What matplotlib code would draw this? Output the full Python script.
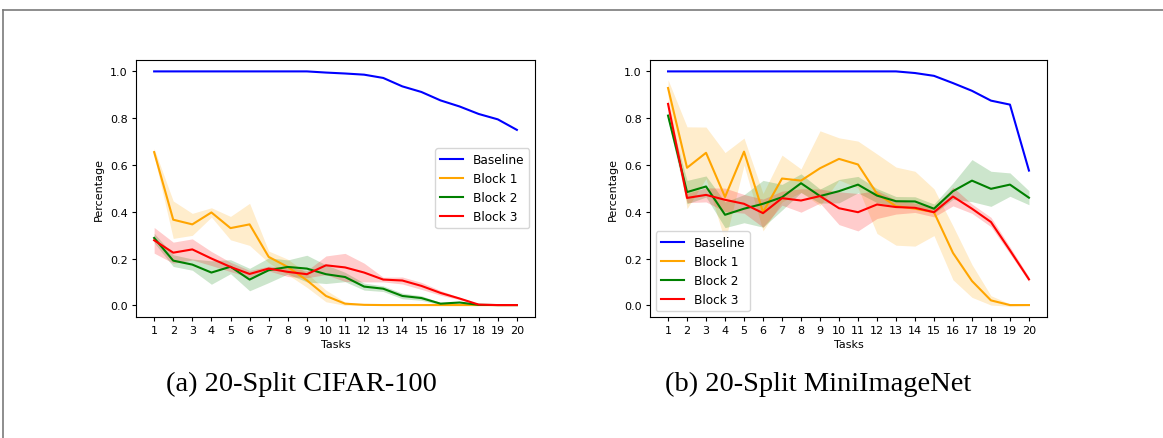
import matplotlib
matplotlib.use("Agg")
import matplotlib.pyplot as plt
from matplotlib.lines import Line2D
import numpy as np

tasks = list(range(1, 21))
series_names = ["Baseline", "Block 1", "Block 2", "Block 3"]
series_colors = ["blue", "orange", "green", "red"]

# (a) 20-Split CIFAR-100
cifar_baseline = [1.0, 1.0, 1.0, 1.0, 1.0, 1.0, 1.0, 1.0, 1.0, 0.995,
                  0.991, 0.986, 0.972, 0.936, 0.912, 0.876, 0.850, 0.818, 0.795, 0.750]
cifar_block1 = [0.655, 0.366, 0.346, 0.397, 0.330, 0.346, 0.207, 0.164, 0.107, 0.040,
                0.007, 0.002, 0.001, 0.001, 0.001, 0.001, 0.001, 0.001, 0.001, 0.001]
cifar_block1_std = [0.015, 0.08, 0.047, 0.02, 0.05, 0.09, 0.025, 0.033, 0.03, 0.025,
                    0.007, 0.002, 0.001, 0.001, 0.001, 0.001, 0.001, 0.001, 0.001, 0.001]
cifar_block2 = [0.288, 0.191, 0.174, 0.140, 0.165, 0.110, 0.150, 0.164, 0.157, 0.133,
                0.121, 0.080, 0.071, 0.040, 0.031, 0.007, 0.012, 0.002, 0.001, 0.001]
cifar_block2_std = [0.02, 0.025, 0.024, 0.05, 0.03, 0.048, 0.053, 0.03, 0.057, 0.04,
                    0.02, 0.015, 0.012, 0.012, 0.01, 0.005, 0.003, 0.002, 0.001, 0.001]
cifar_block3 = [0.278, 0.225, 0.239, 0.200, 0.164, 0.134, 0.157, 0.143, 0.133, 0.171,
                0.162, 0.140, 0.110, 0.106, 0.083, 0.053, 0.029, 0.003, 0.001, 0.001]
cifar_block3_std = [0.055, 0.045, 0.045, 0.03, 0.02, 0.015, 0.01, 0.02, 0.015, 0.04,
                    0.06, 0.04, 0.01, 0.015, 0.015, 0.01, 0.005, 0.002, 0.001, 0.001]

# (b) 20-Split MiniImageNet
mini_baseline = [1.0, 1.0, 1.0, 1.0, 1.0, 1.0, 1.0, 1.0, 1.0, 1.0,
                 1.0, 1.0, 1.0, 0.993, 0.981, 0.950, 0.917, 0.875, 0.858, 0.576]
mini_block1 = [0.929, 0.588, 0.652, 0.463, 0.657, 0.398, 0.542, 0.533, 0.586, 0.626,
               0.602, 0.477, 0.424, 0.413, 0.398, 0.224, 0.104, 0.021, 0.001, 0.001]
mini_block1_std = [0.035, 0.175, 0.11, 0.19, 0.058, 0.08, 0.10, 0.05, 0.16, 0.09,
                   0.10, 0.17, 0.167, 0.16, 0.10, 0.115, 0.07, 0.02, 0.005, 0.002]
mini_block2 = [0.811, 0.484, 0.508, 0.387, 0.413, 0.434, 0.462, 0.522, 0.467, 0.488,
               0.516, 0.469, 0.445, 0.444, 0.413, 0.488, 0.533, 0.498, 0.516, 0.460]
mini_block2_std = [0.02, 0.05, 0.045, 0.055, 0.06, 0.10, 0.055, 0.04, 0.03, 0.05,
                   0.035, 0.03, 0.02, 0.02, 0.02, 0.035, 0.09, 0.075, 0.05, 0.03]
mini_block3 = [0.861, 0.459, 0.472, 0.451, 0.434, 0.394, 0.458, 0.448, 0.467, 0.415,
               0.398, 0.431, 0.420, 0.417, 0.398, 0.465, 0.413, 0.356, 0.235, 0.111]
mini_block3_std = [0.02, 0.02, 0.03, 0.05, 0.04, 0.06, 0.03, 0.05, 0.03, 0.07,
                   0.08, 0.06, 0.03, 0.02, 0.02, 0.04, 0.02, 0.02, 0.015, 0.01]

x_label = "Tasks"
y_label = "Percentage"
captions = ["(a) 20-Split CIFAR-100", "(b) 20-Split MiniImageNet"]

FS = 8
LFS = 8.7

fig = plt.figure(figsize=(11.63, 4.39), dpi=100)
fig.patch.set_facecolor("white")

ax1 = fig.add_axes([136 / 1163, 1 - 318 / 439, 399 / 1163, 257.3 / 439])
ax2 = fig.add_axes([650 / 1163, 1 - 318 / 439, 397 / 1163, 257.3 / 439])


def draw(ax, baseline, blocks, stds, legend_loc):
    t = np.array(tasks)
    ax.plot(t, baseline, color=series_colors[0], label=series_names[0], lw=1.5)
    for vals, sd, name, col in zip(blocks, stds, series_names[1:], series_colors[1:]):
        v = np.array(vals)
        s = np.array(sd)
        ax.plot(t, v, color=col, label=name, lw=1.5)
        ax.fill_between(t, v - s, v + s, color=col, alpha=0.2, lw=0)
    ax.set_xticks(tasks)
    ax.set_xticklabels([str(k) for k in tasks])
    ax.set_yticks([0.0, 0.2, 0.4, 0.6, 0.8, 1.0])
    ax.set_ylim(-0.05, 1.05)
    ax.set_xlim(0.05, 20.95)
    ax.tick_params(labelsize=FS, length=3, width=0.8, pad=3)
    ax.set_xlabel(x_label, fontsize=FS, labelpad=3)
    ax.set_ylabel(y_label, fontsize=FS, labelpad=4)
    for sp in ax.spines.values():
        sp.set_linewidth(0.8)
    ax.legend(loc=legend_loc, fontsize=LFS, handlelength=1.9, framealpha=0.8)


draw(ax1, cifar_baseline, [cifar_block1, cifar_block2, cifar_block3],
     [cifar_block1_std, cifar_block2_std, cifar_block3_std], "center right")
draw(ax2, mini_baseline, [mini_block1, mini_block2, mini_block3],
     [mini_block1_std, mini_block2_std, mini_block3_std], "lower left")

fig.text(301 / 1163, 1 - 384 / 439, captions[0], ha="center", va="center",
         fontsize=20.5, family="Liberation Serif")
fig.text(818 / 1163, 1 - 384 / 439, captions[1], ha="center", va="center",
         fontsize=20.5, family="Liberation Serif")

# page frame lines (top and left)
fig.add_artist(Line2D([3 / 1163, 1.0], [1 - 10.5 / 439, 1 - 10.5 / 439],
                      transform=fig.transFigure, color="#7a7a7a", lw=1.2))
fig.add_artist(Line2D([3 / 1163, 3 / 1163], [0.0, 1 - 10.5 / 439],
                      transform=fig.transFigure, color="#7a7a7a", lw=1.2))

fig.savefig("out.png", dpi=100, facecolor="white")
